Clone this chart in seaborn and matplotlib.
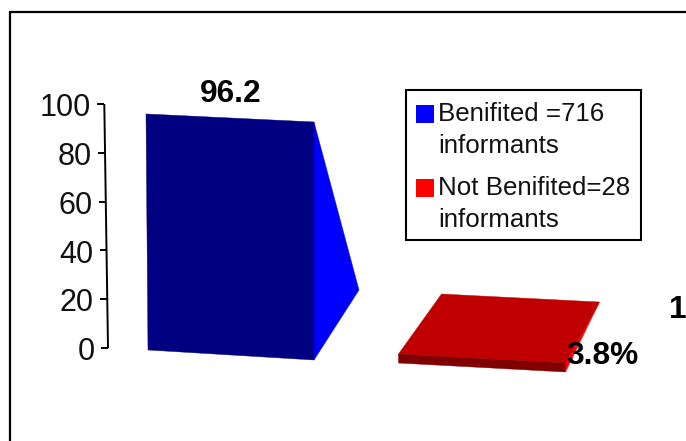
import matplotlib
matplotlib.use("Agg")
import matplotlib.pyplot as plt
from matplotlib.lines import Line2D
from matplotlib.patches import Patch, Polygon
import pandas as pd
import seaborn as sns

# Chart values
groups = ["Benifited =716\ninformants", "Not Benifited=28\ninformants"]
percentages = [96.2, 3.8]
value_labels = ["96.2", "3.8%"]
stray_label = "1"
y_ticks = [0, 20, 40, 60, 80, 100]

# Face colours of the pseudo-3D bars
legend_colors = ["#0000FF", "#FF0000"]
front_colors = ["#000080", "#800000"]
top_colors = [None, "#C00000"]
side_colors = ["#0000FF", "#FF0000"]

W, H = 686, 441
AX_LEFT, AX_RIGHT, AX_TOP, AX_BOTTOM = 108, 650, 104, 348
PX_PER_VALUE = (AX_BOTTOM - AX_TOP) / 100
PX_PER_CAT = 251.5
CAT0_PX = 231

sns.set_theme(style="white")
plt.rcParams["font.family"] = ["Liberation Sans", "DejaVu Sans"]

fig = plt.figure(figsize=(W / 100, H / 100), dpi=100, facecolor="white")
ax = fig.add_axes([AX_LEFT / W, 1 - AX_BOTTOM / H,
                   (AX_RIGHT - AX_LEFT) / W, (AX_BOTTOM - AX_TOP) / H])

df = pd.DataFrame({"group": groups, "percent": percentages})
sns.barplot(data=df, x="group", y="percent", hue="group", palette=legend_colors,
            dodge=False, width=0.668, legend=False, ax=ax)
ax.set_xlim((AX_LEFT - CAT0_PX) / PX_PER_CAT, (AX_RIGHT - CAT0_PX) / PX_PER_CAT)
ax.set_ylim(0, 100)
ax.axis("off")

# Pixel offsets (dx, dy downward) that turn each flat bar into a perspective solid
front_offsets = [
    {"bl": (1, 2), "br": (-1, 12), "tr": (-1, 8.7), "tl": (-1, 0.7)},
    {"bl": (0, 15), "br": (-1, 24), "tr": (-1, 24.3), "tl": (0, 15.3)},
]
back_offsets = [
    {"apex": (44, -58)},
    {"tl": (43, -44.7), "tr": (33, -36.7)},
]


def shifted(x, v, offset):
    """Move a data-space point by an offset given in pixels."""
    return (x + offset[0] / PX_PER_CAT, v - offset[1] / PX_PER_VALUE)


def face(points, color, z):
    ax.add_patch(Polygon(points, closed=True, facecolor=color, edgecolor=color,
                         linewidth=0.3, clip_on=False, zorder=z))


bars = [c[0] for c in ax.containers]
for i, bar in enumerate(bars):
    x0, x1 = bar.get_x(), bar.get_x() + bar.get_width()
    v = bar.get_height()
    bar.set_visible(False)
    fr, bk = front_offsets[i], back_offsets[i]
    bl = shifted(x0, 0, fr["bl"])
    br = shifted(x1, 0, fr["br"])
    tr = shifted(x1, v, fr["tr"])
    tl = shifted(x0, v, fr["tl"])
    if "apex" in bk:
        face([tr, shifted(x1, 0, bk["apex"]), br], side_colors[i], 3)
    else:
        back_l = shifted(x0, v, bk["tl"])
        back_r = shifted(x1, v, bk["tr"])
        face([br, back_r, tr], side_colors[i], 3)
        face([tl, back_l, back_r, tr], top_colors[i], 4)
    face([bl, br, tr, tl], front_colors[i], 5)

# Slanted value axis with its ticks and numbers
slant = lambda v: (100 - v) / 100 * 3.7
line_kw = dict(color="black", lw=1.4, clip_on=False, solid_capstyle="butt")
ax.plot([(AX_LEFT - 3.7 - CAT0_PX) / PX_PER_CAT, (AX_LEFT - CAT0_PX) / PX_PER_CAT], [100, 0], **line_kw)
for t in y_ticks:
    tip = (AX_LEFT - 3.7 + slant(t) - CAT0_PX) / PX_PER_CAT
    ax.plot([tip - 7 / PX_PER_CAT, tip], [t, t], **line_kw)
    ax.text(tip - 13.5 / PX_PER_CAT, t - 0.3, str(t), ha="right", va="center_baseline",
            fontsize=22, color="#111111")

# Value labels, placed from the bars they describe
label_style = dict(fontsize=22.8, fontweight="bold", color="black", zorder=8, clip_on=False)
ax.text(bars[0].get_x() + bars[0].get_width() / 2, percentages[0] + 9.5,
        value_labels[0], ha="center", va="center_baseline", **label_style)
ax.text(bars[1].get_x() + bars[1].get_width() + 0.0, percentages[1] - 5.6,
        value_labels[1], ha="left", va="center_baseline", **label_style)
fig.text(669 / W, 1 - 306 / H, stray_label, ha="left", va="center_baseline",
         fontsize=22.8, fontweight="bold", color="black")

# Legend box
handles = [Patch(facecolor=c, edgecolor=c, linewidth=0) for c in legend_colors]
leg = ax.legend(handles, groups, loc="upper left",
                bbox_to_anchor=(405.7 / W, 1 - 90 / H), bbox_transform=fig.transFigure,
                borderaxespad=0, fontsize=18.6, frameon=True, fancybox=False,
                framealpha=1, edgecolor="black", facecolor="white",
                handlelength=0.7, handleheight=0.7, handletextpad=0.16,
                borderpad=0.4, labelspacing=0.7)
leg.get_frame().set_linewidth(1.5)
leg.set_zorder(10)
for txt in leg.get_texts():
    txt.set_linespacing(1.41)
    txt.set_color("#111111")
    txt.set_position((0, -1.6))
# Line the swatches up with the first line of each entry
for patch in leg.legend_handles:
    patch.set_y(patch.get_y() + 10.5)

# Outer frame cut off by the right and bottom edges of the figure
for xs, ys in [((10, 10), (H, 12)), ((10, W), (12, 12))]:
    fig.add_artist(Line2D([x / W for x in xs], [1 - y / H for y in ys],
                          color="black", lw=1.6, transform=fig.transFigure))

fig.savefig("out.png", dpi=100)
